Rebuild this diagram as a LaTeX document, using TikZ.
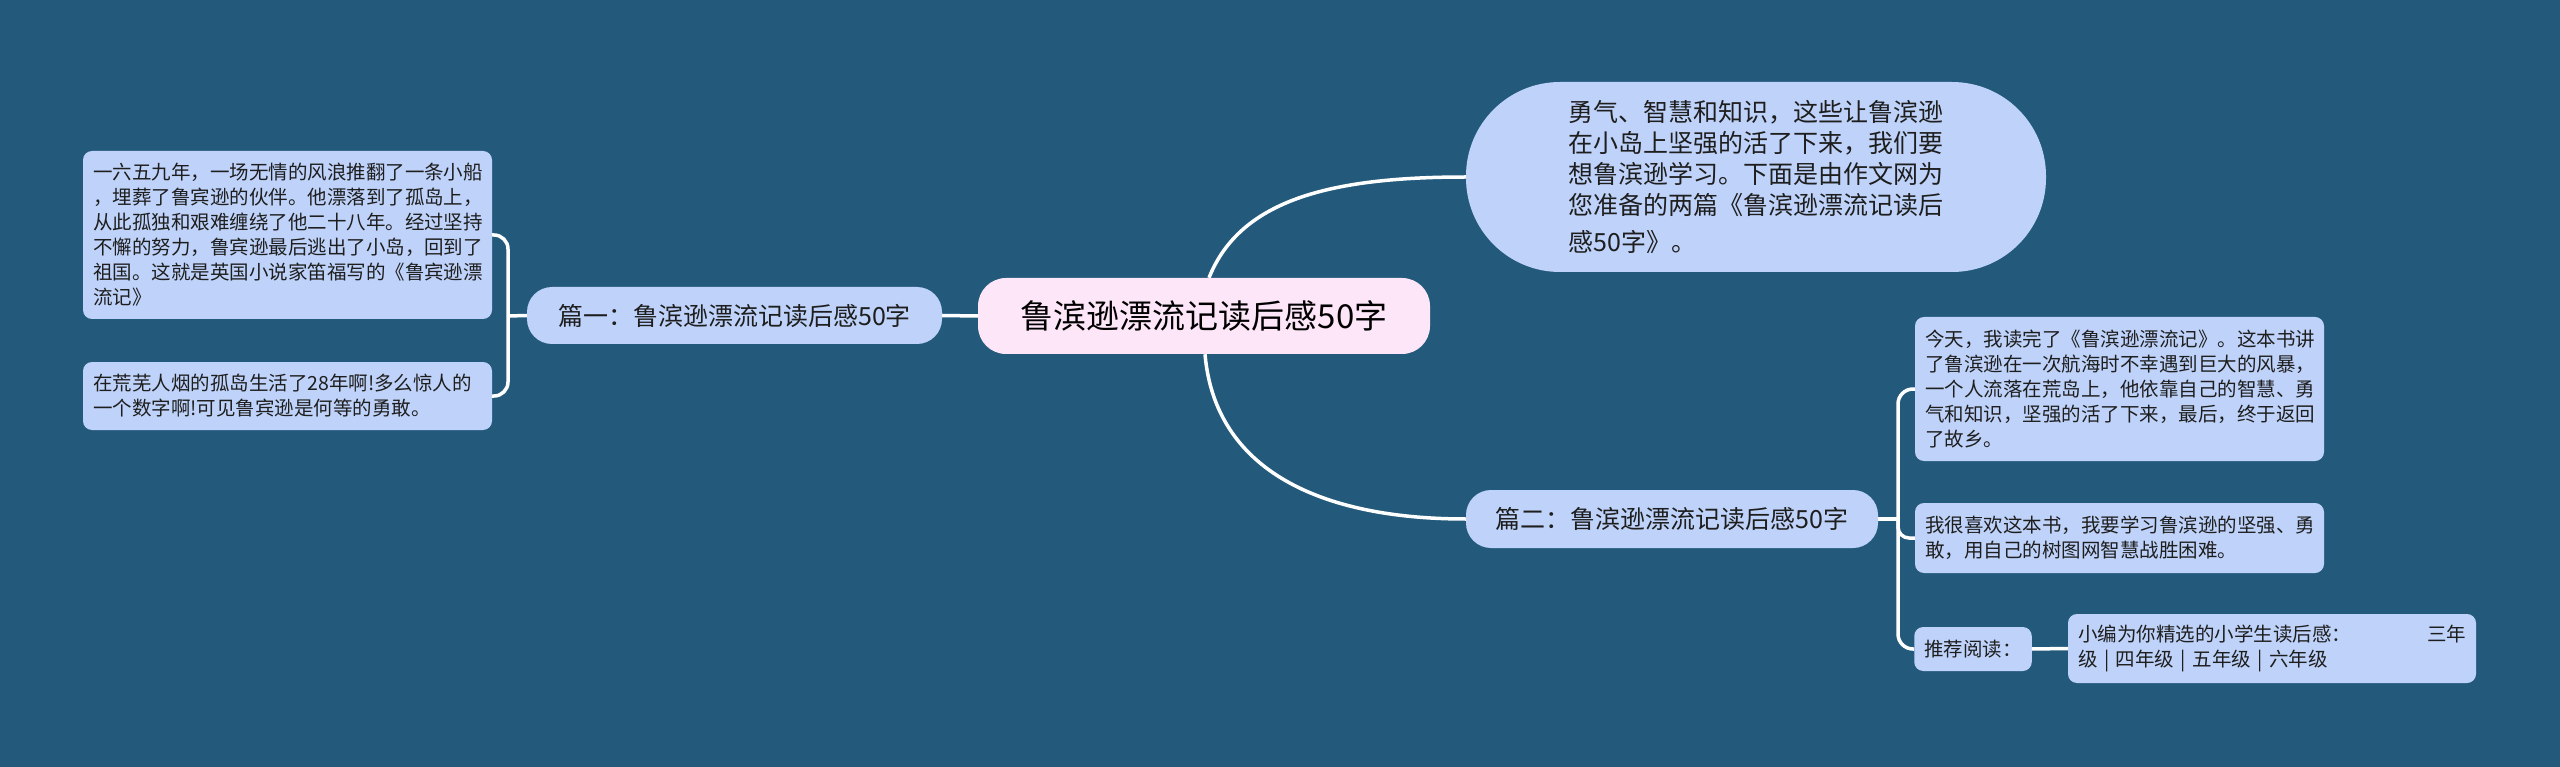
\documentclass[tikz,border=0pt]{standalone}
\usepackage{fontspec}
\setmainfont{Noto Sans CJK SC}
\definecolor{bg}{HTML}{235A7C}
\definecolor{boxc}{HTML}{BFD3FA}
\definecolor{pinkc}{HTML}{FEE6F9}
\definecolor{txt}{HTML}{1E1E1E}
\begin{document}
\begin{tikzpicture}[x=1pt,y=-1pt,
  conn/.style={draw=white,line width=3.5pt},
  leaf/.style={fill=boxc,rounded corners=9pt,align=left,inner xsep=10pt,inner ysep=0pt,text=txt,
    font=\fontsize{19.5}{25}\selectfont},
  mainbox/.style={fill=boxc,rounded corners=25pt,inner sep=0pt,text=txt,font=\fontsize{25}{29}\selectfont},
  rootbox/.style={fill=pinkc,rounded corners=28pt,inner sep=0pt,text=black,font=\fontsize{33}{38}\selectfont},
  pillbox/.style={fill=boxc,rounded corners=94pt,inner sep=0pt,align=left,text=txt,font=\fontsize{25}{31}\selectfont}
]
\fill[bg] (0,0) rectangle (2560,767);
\useasboundingbox (0,0) rectangle (2560,767);

% nodes
\node[rootbox,minimum width=452pt,minimum height=76pt] (c) at (1204,316) {鲁滨逊漂流记读后感50字};
\node[mainbox,minimum width=415pt,minimum height=57pt] (p1) at (734.5,315.5) {篇一：鲁滨逊漂流记读后感50字};
\node[mainbox,minimum width=412pt,minimum height=58pt] (p2) at (1672,519) {篇二：鲁滨逊漂流记读后感50字};
\node[pillbox,minimum width=580pt,minimum height=190pt,text width=375pt] (top) at (1756,177) {勇气、智慧和知识，这些让鲁滨逊\\在小岛上坚强的活了下来，我们要\\想鲁滨逊学习。下面是由作文网为\\您准备的两篇《鲁滨逊漂流记读后\\[6pt]感50字》。};

\node[leaf,text width=389pt,minimum height=168pt] (l1) at (287.5,235) {一六五九年，一场无情的风浪推翻了一条小船\\，埋葬了鲁宾逊的伙伴。他漂落到了孤岛上，\\从此孤独和艰难缠绕了他二十八年。经过坚持\\不懈的努力，鲁宾逊最后逃出了小岛，回到了\\祖国。这就是英国小说家笛福写的《鲁宾逊漂\\流记》};
\node[leaf,text width=389pt,minimum height=68pt] (l2) at (287.5,396) {在荒芜人烟的孤岛生活了28年啊!多么惊人的\\一个数字啊!可见鲁宾逊是何等的勇敢。};

\node[leaf,text width=389pt,minimum height=144pt] (r1) at (2119.5,389) {今天，我读完了《鲁滨逊漂流记》。这本书讲\\了鲁滨逊在一次航海时不幸遇到巨大的风暴，\\一个人流落在荒岛上，他依靠自己的智慧、勇\\气和知识，坚强的活了下来，最后，终于返回\\了故乡。};
\node[leaf,text width=389pt,minimum height=70pt] (r2) at (2119.5,538) {我很喜欢这本书，我要学习鲁滨逊的坚强、勇\\敢，用自己的树图网智慧战胜困难。};
\node[leaf,minimum width=116pt,minimum height=44pt] (r3) at (1973,649) {推荐阅读：};
\node[leaf,text width=388pt,minimum height=69pt] (r4) at (2272,648.5) {小编为你精选的小学生读后感：\hskip 0pt plus 1filll 三年\\级 | 四年级 | 五年级 | 六年级};

% connectors
\coordinate (jl) at (508,316);
\coordinate (jr) at (1898,519);
\draw[conn] (p1.east) -- (c.west);
\draw[conn] ([xshift=5pt]c.north) .. controls (1240,200) and (1330,177) .. (top.west);
\draw[conn] ([xshift=1pt]c.south) .. controls (1215,470) and (1320,519) .. (p2.west);
\draw[conn] (p1.west) -- (jl);
\draw[conn,rounded corners=14pt] (jl) |- (l1.east);
\draw[conn,rounded corners=14pt] (jl) |- (l2.east);
\draw[conn] (p2.east) -- (jr);
\draw[conn,rounded corners=15pt] (jr) |- (r1.west);
\draw[conn,rounded corners=11pt] (jr) |- (r2.west);
\draw[conn,rounded corners=15pt] (jr) |- (r3.west);
\draw[conn] (r3.east) -- (r4.west);
\end{tikzpicture}
\end{document}
